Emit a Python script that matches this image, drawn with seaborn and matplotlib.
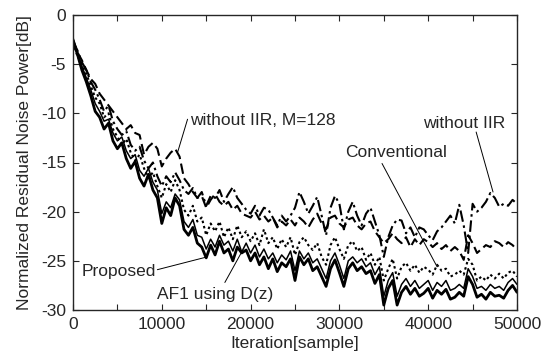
import numpy as np
import pandas as pd
import matplotlib
matplotlib.use("Agg")
import matplotlib.pyplot as plt
import seaborn as sns

iteration = list(range(0, 50001, 500))

proposed = [-2.6, -4.0, -5.6, -6.8, -8.2, -9.8, -10.4, -11.6, -11.0, -12.8,
            -13.6, -13.0, -14.6, -15.6, -14.9, -16.6, -17.4, -16.2, -17.8, -18.6,
            -21.2, -19.6, -20.4, -18.6, -19.4, -21.8, -22.4, -21.6, -23.2, -23.6,
            -24.7, -23.4, -24.4, -23.0, -24.2, -23.8, -25.0, -23.6, -24.2, -23.9,
            -25.0, -24.2, -25.4, -24.6, -25.8, -24.8, -26.1, -25.2, -25.6, -24.8,
            -27.0, -24.6, -25.4, -24.8, -26.0, -25.6, -26.6, -27.6, -25.8, -24.9,
            -26.2, -27.6, -25.8, -25.2, -26.0, -25.6, -26.3, -26.0, -27.3, -26.4,
            -29.5, -27.8, -27.0, -29.5, -28.2, -27.6, -28.4, -27.8, -28.6, -28.3,
            -27.8, -28.8, -28.0, -28.4, -27.9, -28.9, -28.7, -28.2, -28.6, -26.6,
            -27.4, -28.7, -28.4, -28.9, -28.2, -28.6, -28.5, -28.8, -28.0, -27.5,
            -28.2]

af1_dz = [-2.7, -3.8, -5.2, -6.4, -7.6, -9.0, -9.8, -10.8, -10.6, -12.0,
          -12.8, -12.4, -13.8, -14.6, -14.2, -15.8, -16.4, -15.6, -17.0, -17.8,
          -20.2, -19.0, -19.6, -18.2, -18.8, -21.0, -21.6, -20.8, -22.4, -22.6,
          -23.8, -22.8, -23.6, -22.4, -23.4, -23.0, -24.0, -22.8, -24.1, -23.2,
          -24.2, -23.4, -24.6, -23.8, -24.8, -24.2, -25.2, -24.4, -24.9, -24.0,
          -26.0, -24.0, -24.8, -24.2, -25.2, -24.8, -25.8, -26.8, -25.0, -24.2,
          -25.4, -26.8, -25.0, -24.6, -25.2, -24.8, -25.6, -25.2, -26.4, -25.6,
          -28.6, -27.0, -26.2, -28.6, -27.4, -26.8, -27.6, -27.0, -27.8, -27.4,
          -27.0, -28.0, -27.2, -27.6, -27.0, -28.0, -27.8, -27.4, -27.8, -25.8,
          -26.6, -27.8, -27.6, -28.0, -27.4, -27.8, -27.6, -28.0, -27.2, -26.8,
          -27.4]

conventional = [-2.8, -4.2, -5.0, -6.0, -7.2, -8.4, -9.0, -10.4, -10.0, -11.6,
                -12.4, -13.2, -12.6, -14.0, -14.8, -14.2, -15.6, -16.6, -16.0, -17.4,
                -18.6, -17.2, -18.0, -16.8, -17.8, -19.8, -20.4, -19.4, -21.0, -20.6,
                -22.4, -21.2, -22.0, -21.0, -22.6, -21.6, -22.8, -21.4, -22.6, -22.0,
                -23.0, -22.2, -23.4, -21.8, -23.2, -22.6, -23.8, -22.8, -23.6, -22.6,
                -24.4, -23.1, -22.6, -23.4, -23.9, -23.2, -24.6, -25.4, -23.4, -22.6,
                -23.8, -24.8, -23.4, -23.0, -24.0, -23.6, -24.9, -24.2, -25.4, -24.6,
                -27.0, -25.8, -24.8, -26.8, -25.6, -25.2, -26.0, -25.4, -26.2, -25.6,
                -25.9, -26.4, -25.4, -26.0, -25.8, -26.6, -26.4, -26.0, -26.4, -24.8,
                -25.4, -27.0, -26.6, -27.0, -26.4, -26.8, -26.3, -26.8, -26.2, -26.0,
                -26.6]

without_iir = [-2.7, -3.6, -4.8, -5.6, -6.8, -7.6, -8.6, -9.8, -9.2, -10.8,
               -11.6, -12.2, -11.8, -13.2, -13.8, -13.4, -14.8, -15.6, -15.0, -16.4,
               -17.4, -16.4, -17.0, -16.0, -16.8, -17.8, -18.2, -17.6, -18.6, -18.0,
               -19.4, -18.4, -18.6, -17.8, -19.0, -18.2, -17.5, -18.6, -19.2, -19.8,
               -20.2, -19.4, -20.4, -19.6, -19.8, -20.6, -21.4, -20.4, -21.0, -20.4,
               -19.6, -18.0, -19.0, -20.2, -19.4, -18.5, -20.4, -22.4, -19.6, -18.4,
               -19.2, -21.8, -20.0, -19.0, -20.4, -21.4, -20.2, -19.6, -21.0, -22.4,
               -24.6, -22.6, -21.4, -20.8, -20.9, -22.2, -21.6, -22.6, -21.6, -21.8,
               -22.4, -22.9, -22.0, -21.6, -21.0, -20.4, -21.2, -19.3, -21.4, -24.2,
               -19.2, -20.0, -19.6, -19.0, -18.1, -18.6, -19.5, -19.2, -19.4, -18.8,
               -19.2]

without_iir_m128 = [-2.4, -3.8, -4.6, -5.6, -6.5, -7.0, -8.0, -8.6, -9.2, -9.8,
                    -10.4, -11.0, -11.6, -11.2, -12.0, -12.2, -14.2, -13.4, -13.0, -13.6,
                    -15.4, -14.6, -14.0, -13.6, -14.4, -16.6, -17.2, -18.0, -18.6, -18.4,
                    -19.6, -18.8, -18.2, -19.0, -19.4, -19.0, -19.8, -19.4, -20.2, -20.4,
                    -20.6, -20.0, -20.8, -20.4, -21.0, -20.6, -21.6, -21.0, -21.4, -20.8,
                    -21.4, -20.6, -21.0, -21.6, -20.8, -20.2, -21.2, -21.8, -20.6, -20.4,
                    -21.2, -21.6, -20.8, -20.6, -21.4, -21.8, -21.2, -21.0, -22.0, -22.6,
                    -23.2, -22.8, -22.2, -22.8, -23.2, -22.6, -23.6, -22.8, -23.4, -22.8,
                    -23.1, -23.6, -23.2, -23.8, -23.4, -24.0, -23.6, -24.0, -24.9, -22.4,
                    -23.2, -24.2, -23.8, -23.4, -23.6, -23.0, -23.2, -23.6, -23.1, -23.4,
                    -23.9]

series_names = ["without IIR, M=128", "without IIR", "Conventional",
                "AF1 using D(z)", "Proposed"]
x_ticks = [0, 10000, 20000, 30000, 40000, 50000]
y_ticks = [0, -5, -10, -15, -20, -25, -30]

sns.set_style("ticks")
plt.rcParams["font.family"] = ["Liberation Sans", "DejaVu Sans"]
plt.rcParams["font.size"] = 12.5

df = pd.DataFrame({
    "Iteration": iteration * 5,
    "Power": without_iir_m128 + without_iir + conventional + af1_dz + proposed,
    "Series": sum([[n] * len(iteration) for n in series_names], []),
})

fig = plt.figure(figsize=(5.51, 3.56), dpi=100)
ax = fig.add_axes([73 / 551, 1 - 310 / 356, (517 - 73) / 551, (310 - 15) / 356])

styles = {
    "without IIR, M=128": dict(ls=(0, (5.0, 2.2)), lw=1.5),
    "without IIR": dict(ls=(0, (5.5, 1.8, 1.2, 1.8)), lw=1.5),
    "Conventional": dict(ls=(0, (1.2, 1.4)), lw=1.5),
    "AF1 using D(z)": dict(ls="-", lw=1.1),
    "Proposed": dict(ls="-", lw=2.0),
}
for name in series_names:
    sub = df[df["Series"] == name]
    sns.lineplot(data=sub, x="Iteration", y="Power", ax=ax, color="black",
                 linestyle=styles[name]["ls"], linewidth=styles[name]["lw"],
                 legend=False)

ax.set_xlim(0, 50000)
ax.set_ylim(-30, 0)
ax.set_xticks(x_ticks)
ax.set_xticklabels([str(v) for v in x_ticks])
ax.set_xticks([5000, 15000, 25000, 35000, 45000], minor=True)
ax.set_yticks(y_ticks)
ax.set_yticklabels([str(v) for v in y_ticks])
ax.tick_params(which="both", direction="in", top=True, right=True,
               length=4, width=0.8, labelsize=12.5, pad=5)
for s in ax.spines.values():
    s.set_linewidth(1.0)
ax.set_xlabel("Iteration[sample]", fontsize=12.5, labelpad=3)
ax.set_ylabel("Normalized Residual Noise Power[dB]", fontsize=12.5, labelpad=6)

# annotations
line_kw = dict(arrowstyle="-", lw=0.7, color="black", shrinkA=0, shrinkB=0)
ax.text(13200, -10.7, "without IIR, M=128", ha="left", va="center", fontsize=12.5)
ax.annotate("", xy=(11800, -13.9), xytext=(12900, -10.6), arrowprops=line_kw)

ax.text(44000, -11.0, "without IIR", ha="center", va="center", fontsize=12.5)
ax.annotate("", xy=(47300, -18.0), xytext=(45400, -11.9), arrowprops=line_kw)

ax.text(36400, -14.0, "Conventional", ha="center", va="center", fontsize=12.5)
ax.annotate("", xy=(41000, -25.6), xytext=(34800, -15.1), arrowprops=line_kw)

ax.text(5200, -26.1, "Proposed", ha="center", va="center", fontsize=12.5)
ax.annotate("", xy=(15100, -24.6), xytext=(9500, -25.9), arrowprops=line_kw)

ax.text(16000, -28.4, "AF1 using D(z)", ha="center", va="center", fontsize=12.5)
ax.annotate("", xy=(19000, -24.1), xytext=(17100, -27.2), arrowprops=line_kw)

fig.savefig("out.png", dpi=100)
